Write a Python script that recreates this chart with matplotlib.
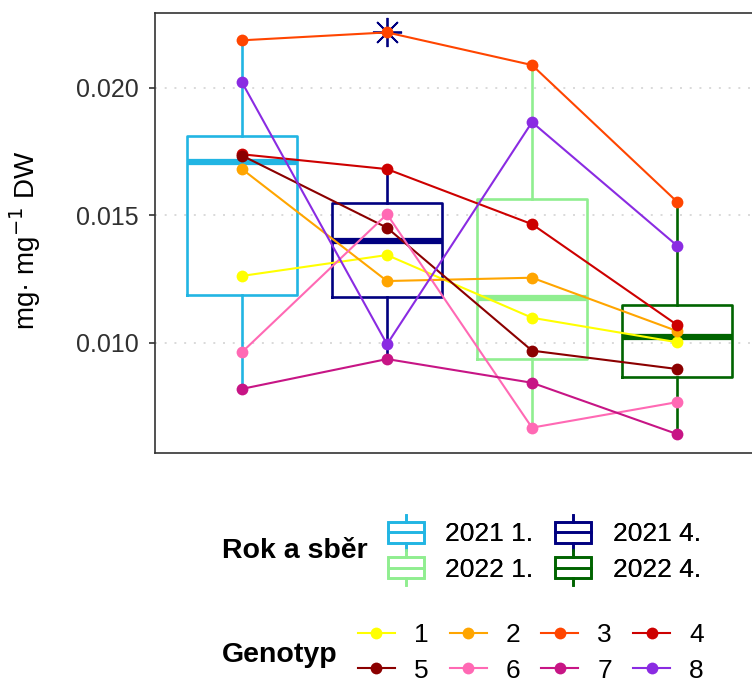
import numpy as np
import matplotlib
matplotlib.use("Agg")
import matplotlib.pyplot as plt
from matplotlib.lines import Line2D
from matplotlib.patches import Rectangle
from matplotlib.legend_handler import HandlerBase

plt.rcParams["font.family"] = ["Liberation Sans", "DejaVu Sans"]

# sampling groups (year and harvest)
groups = ["2021 1.", "2021 4.", "2022 1.", "2022 4."]
group_colors = ["#22B5E3", "#000080", "#90EE90", "#006400"]

genotypes = ["1", "2", "3", "4", "5", "6", "7", "8"]
geno_colors = ["#FFFF00", "#FFA500", "#FF4500", "#CD0000",
               "#8B0000", "#FF69B4", "#C71585", "#8A2BE2"]

# content (mg per mg DW) for each genotype across the four groups
g1 = [0.01263, 0.01345, 0.01099, 0.01003]
g2 = [0.01682, 0.01243, 0.01256, 0.01047]
g3 = [0.02187, 0.02218, 0.02090, 0.01554]
g4 = [0.01740, 0.01682, 0.01466, 0.01071]
g5 = [0.01735, 0.01452, 0.00970, 0.00898]
g6 = [0.00964, 0.01505, 0.00668, 0.00768]
g7 = [0.00820, 0.00937, 0.00844, 0.00643]
g8 = [0.02022, 0.00995, 0.01866, 0.01382]
values = [g1, g2, g3, g4, g5, g6, g7, g8]

W, H = 752, 684
fig = plt.figure(figsize=(W / 100, H / 100), dpi=100)
ax = fig.add_axes([155 / W, 1 - 453 / H, 609 / W, 440 / H])

data = np.array(values)
x = np.arange(1, 5)

for i, col in enumerate(group_colors):
    ax.boxplot(data[:, i], positions=[x[i]], widths=0.76, showcaps=False,
               patch_artist=False,
               boxprops=dict(color=col, linewidth=1.9),
               whiskerprops=dict(color=col, linewidth=1.9),
               medianprops=dict(color=col, linewidth=4.5, solid_capstyle="butt"),
               flierprops=dict(marker=(8, 2, 0), markersize=21,
                               markeredgecolor=col, markeredgewidth=1.3))

for vals, col in zip(values, geno_colors):
    ax.plot(x, vals, color=col, linewidth=1.5, marker="o", markersize=8.5,
            markeredgewidth=0, zorder=3)

ax.set_xlim(0.4, 4.6)
ax.set_ylim(0.005686, 0.022941)
ax.set_xticks([])
ax.set_yticks([0.010, 0.015, 0.020])
ax.set_yticklabels(["0.010", "0.015", "0.020"])
ax.tick_params(axis="y", length=4.5, width=1.2, color="#333333",
               labelsize=18, labelcolor="#303030", pad=7)
ax.yaxis.grid(True, color="#D9D9D9", linestyle=(0, (1, 4)), linewidth=1.4)
ax.set_axisbelow(True)
for sp in ax.spines.values():
    sp.set_color("#333333")
    sp.set_linewidth(1.2)

fig.text(25 / W, 1 - 240 / H, "mg· mg$^{-1}$ DW", rotation=90,
         ha="center", va="center", fontsize=20)


class BoxKey(HandlerBase):
    def create_artists(self, legend, orig_handle, xdescent, ydescent,
                       width, height, fontsize, trans):
        col = orig_handle.get_color()
        cx = width / 2 - xdescent
        w = width * 0.92
        bh = height * 0.7
        y0 = (height - bh) / 2 - ydescent
        box = Rectangle((cx - w / 2, y0), w, bh, fill=False, edgecolor=col,
                        linewidth=1.9, transform=trans)
        mid = Line2D([cx - w / 2, cx + w / 2], [y0 + bh / 2] * 2, color=col,
                     linewidth=1.9, transform=trans)
        top = Line2D([cx, cx], [y0 + bh, height - ydescent + 2], color=col,
                     linewidth=1.9, transform=trans)
        bot = Line2D([cx, cx], [y0, -ydescent - 2], color=col,
                     linewidth=1.9, transform=trans)
        return [box, mid, top, bot]


order = [0, 2, 1, 3]
box_handles = [Line2D([], [], color=group_colors[k]) for k in order]
leg1 = fig.legend(box_handles, [groups[k] for k in order],
                  handler_map={Line2D: BoxKey()}, ncol=2, frameon=False,
                  fontsize=19, handlelength=1.5, handleheight=1.35,
                  handletextpad=0.75, columnspacing=0.75, labelspacing=0.22,
                  loc="center left", bbox_to_anchor=(386 / W, 1 - 550 / H),
                  borderpad=0, borderaxespad=0)
fig.add_artist(leg1)
fig.text(222 / W, 1 - 551 / H, "Rok a sběr", fontsize=20.5, fontweight="bold",
         ha="left", va="center")

geno_order = [0, 4, 1, 5, 2, 6, 3, 7]
geno_handles = [Line2D([], [], color=geno_colors[k], linewidth=1.5,
                       marker="o", markersize=8.5, markeredgewidth=0)
                for k in geno_order]
fig.legend(geno_handles, [genotypes[k] for k in geno_order], ncol=4,
           frameon=False, fontsize=19, handlelength=1.4, handletextpad=0.72,
           columnspacing=0.8, labelspacing=0.42, loc="center left",
           bbox_to_anchor=(358 / W, 1 - 653 / H), borderpad=0,
           borderaxespad=0)
fig.text(222 / W, 1 - 655 / H, "Genotyp", fontsize=20.5, fontweight="bold",
         ha="left", va="center")

fig.savefig("out.png", dpi=100)
